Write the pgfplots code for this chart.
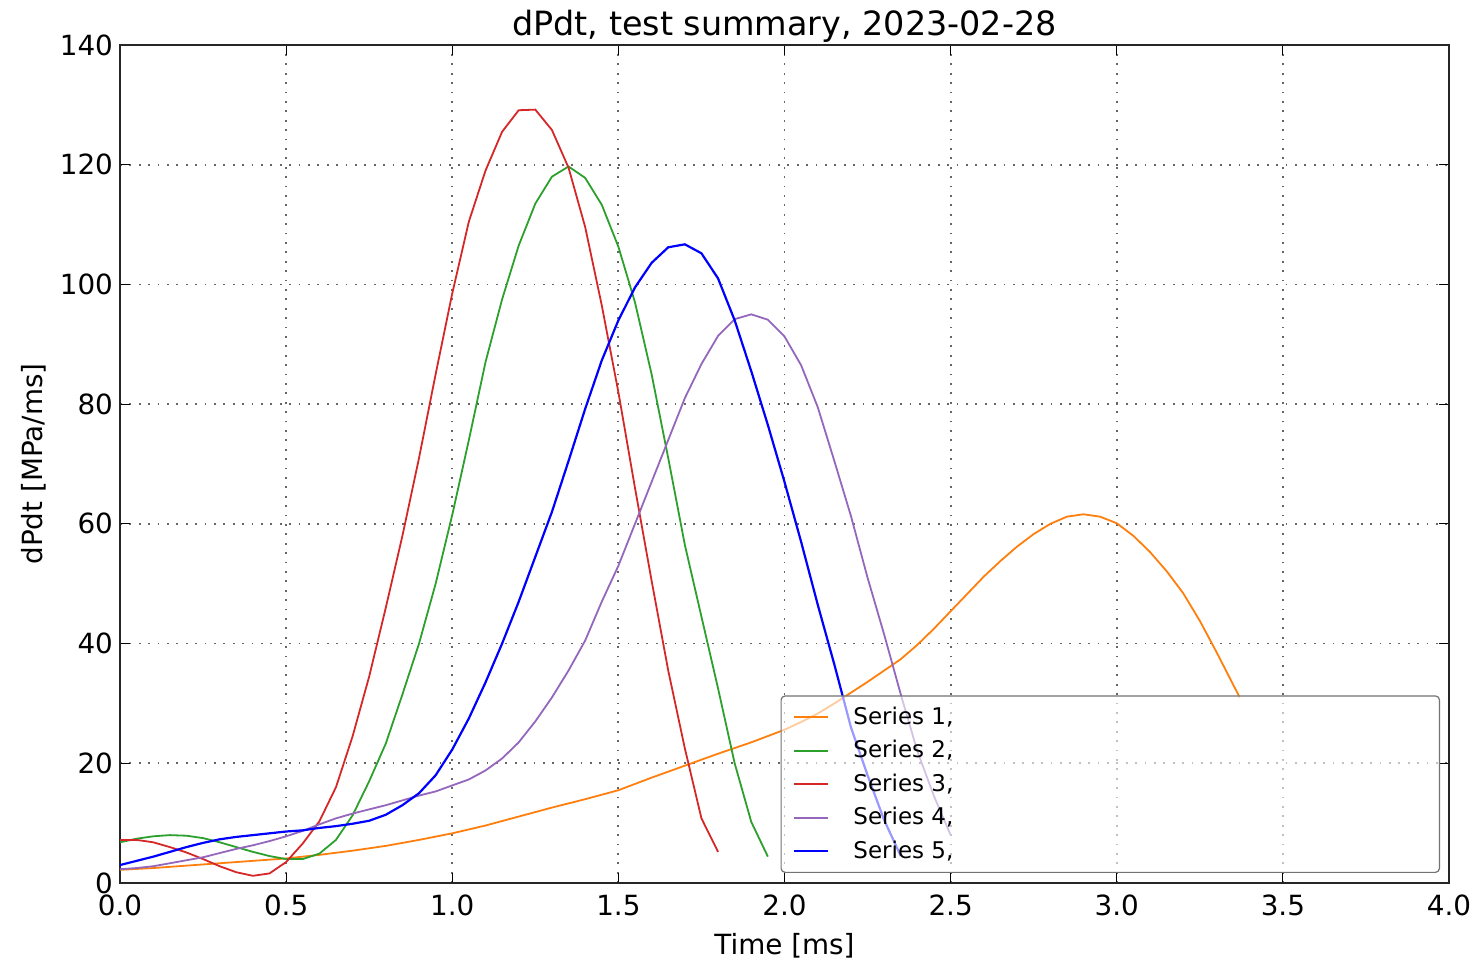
\documentclass[border=0pt]{standalone}
\usepackage{fontspec}
\setmainfont{DejaVu Sans}
\usepackage{pgfplots}
\pgfplotsset{compat=1.18}
\usetikzlibrary{calc}
\definecolor{cOrange}{HTML}{FF7F0E}
\definecolor{cGreen}{HTML}{2CA02C}
\definecolor{cRed}{HTML}{D62728}
\definecolor{cPurple}{HTML}{9467BD}
\definecolor{cBlue}{HTML}{0000FF}
\begin{document}
\begin{tikzpicture}
\begin{axis}[name=ax, scale only axis, width=664.5pt, height=419pt,
  xmin=0, xmax=4, ymin=0, ymax=140,
  xtick={0,0.5,1,1.5,2,2.5,3,3.5,4}, ytick={0,20,40,60,80,100,120,140},
  xticklabel style={/pgf/number format/fixed, /pgf/number format/fixed zerofill, /pgf/number format/precision=1, yshift=-2.5pt},
  /pgf/number format/assume math mode=true,
  tick align=inside, tick pos=both,
  major tick length=5pt,
  tick style={black, line width=0.6pt},
  grid=major, major grid style={black!60, line width=0.9pt, dash pattern=on 0.9pt off 3.8pt},
  axis line style={black!85, line width=0.9pt},
  ticklabel style={font=\fontsize{13.9}{16}\selectfont},
  label style={font=\fontsize{13.9}{16}\selectfont},
  xlabel style={yshift=-2pt},
  title={dPdt, test summary, 2023-02-28},
  title style={font=\fontsize{16.7}{19}\selectfont, yshift=-8.5pt},
  xlabel={Time [ms]}, ylabel={dPdt [MPa/ms]},
  legend style={at={(0.497,0.012)}, anchor=south west, fill=white, fill opacity=0.6, draw opacity=1, text opacity=1,
    draw=black!55, line width=0.6pt, rounded corners=2pt, font=\fontsize{11.5}{13}\selectfont,
    row sep=2.5pt, inner xsep=6pt, inner ysep=3.5pt, column sep=10pt, nodes={inner sep=2pt}},
  legend cell align=left,
  every axis plot/.append style={line width=0.9pt},
]
\addplot[cOrange] table {
x y
0.00 2.2
0.10 2.5
0.20 2.9
0.30 3.3
0.40 3.7
0.50 4.1
0.60 4.7
0.70 5.4
0.80 6.2
0.90 7.2
1.00 8.3
1.10 9.6
1.20 11.1
1.30 12.6
1.40 14.0
1.50 15.5
1.60 17.6
1.70 19.6
1.80 21.6
1.90 23.5
2.00 25.6
2.05 26.9
2.10 28.3
2.15 30.0
2.20 31.8
2.25 33.6
2.30 35.5
2.35 37.4
2.40 39.8
2.45 42.5
2.50 45.4
2.55 48.3
2.60 51.2
2.65 53.8
2.70 56.2
2.75 58.3
2.80 60.0
2.85 61.2
2.90 61.6
2.95 61.2
3.00 60.1
3.05 58.0
3.10 55.3
3.15 52.1
3.20 48.4
3.25 43.8
3.30 38.6
3.37 31.0
};
\addlegendentry{\makebox[285pt][l]{Series 1,}}
\addplot[cGreen] table {
x y
0.00 6.8
0.05 7.4
0.10 7.8
0.15 8.0
0.20 7.9
0.25 7.5
0.30 6.8
0.35 6.0
0.40 5.2
0.45 4.5
0.50 4.0
0.55 4.0
0.60 4.9
0.65 7.2
0.70 11.3
0.75 17.0
0.80 23.3
0.85 31.5
0.90 40.0
0.95 50.0
1.00 61.5
1.05 74.0
1.10 87.0
1.15 97.5
1.20 106.5
1.25 113.5
1.30 118.0
1.35 119.7
1.40 117.8
1.45 113.3
1.50 106.3
1.55 97.0
1.60 85.0
1.65 71.0
1.70 56.5
1.75 44.5
1.80 32.5
1.85 20.0
1.90 10.2
1.95 4.4
};
\addlegendentry{Series 2,}
\addplot[cRed] table {
x y
0.00 7.2
0.05 7.2
0.10 6.8
0.15 6.0
0.20 5.1
0.25 4.0
0.30 2.8
0.35 1.8
0.40 1.2
0.45 1.6
0.50 3.5
0.55 6.6
0.60 10.3
0.65 16.0
0.70 24.5
0.75 34.5
0.80 46.0
0.85 58.0
0.90 71.0
0.95 85.0
1.00 98.5
1.05 110.5
1.10 119.0
1.15 125.5
1.20 129.1
1.25 129.2
1.30 125.8
1.35 119.5
1.40 109.6
1.45 96.5
1.50 82.0
1.55 66.0
1.60 50.5
1.65 35.5
1.70 22.5
1.75 10.8
1.80 5.2
};
\addlegendentry{Series 3,}
\addplot[cPurple] table {
x y
0.00 2.3
0.05 2.5
0.10 2.8
0.15 3.3
0.20 3.8
0.25 4.3
0.30 5.0
0.35 5.7
0.40 6.3
0.45 7.0
0.50 7.8
0.55 8.7
0.60 9.8
0.65 10.8
0.70 11.6
0.75 12.3
0.80 13.0
0.85 13.8
0.90 14.6
0.95 15.3
1.00 16.3
1.05 17.3
1.10 18.8
1.15 20.8
1.20 23.5
1.25 27.0
1.30 31.0
1.35 35.5
1.40 40.5
1.45 47.0
1.50 53.0
1.55 60.0
1.60 67.0
1.65 74.0
1.70 81.0
1.75 86.7
1.80 91.4
1.85 94.2
1.90 95.0
1.95 94.1
2.00 91.3
2.05 86.5
2.10 79.5
2.15 70.5
2.20 61.3
2.25 51.0
2.30 41.5
2.35 31.5
2.40 22.0
2.45 14.5
2.50 8.0
};
\addlegendentry{Series 4,}
\addplot[cBlue, line width=1.1pt] table {
x y
0.00 3.0
0.05 3.7
0.10 4.4
0.15 5.2
0.20 6.0
0.25 6.7
0.30 7.3
0.35 7.7
0.40 8.0
0.45 8.3
0.50 8.6
0.55 8.8
0.60 9.2
0.65 9.5
0.70 9.9
0.75 10.4
0.80 11.4
0.85 13.0
0.90 15.0
0.95 18.0
1.00 22.3
1.05 27.5
1.10 33.5
1.15 40.0
1.20 47.0
1.25 54.5
1.30 62.0
1.35 70.5
1.40 79.2
1.45 87.3
1.50 94.0
1.55 99.5
1.60 103.6
1.65 106.2
1.70 106.7
1.75 105.2
1.80 101.0
1.85 94.0
1.90 85.5
1.95 76.5
2.00 67.0
2.05 57.0
2.10 46.5
2.15 36.5
2.20 26.0
2.25 18.0
2.30 10.5
2.35 4.5
};
\addlegendentry{Series 5,}
\end{axis}
\pgfresetboundingbox
\path ($(ax.south west)+(-60pt,-39pt)$) rectangle ($(ax.north east)+(14.5pt,22.5pt)$);
\end{tikzpicture}
\end{document}
